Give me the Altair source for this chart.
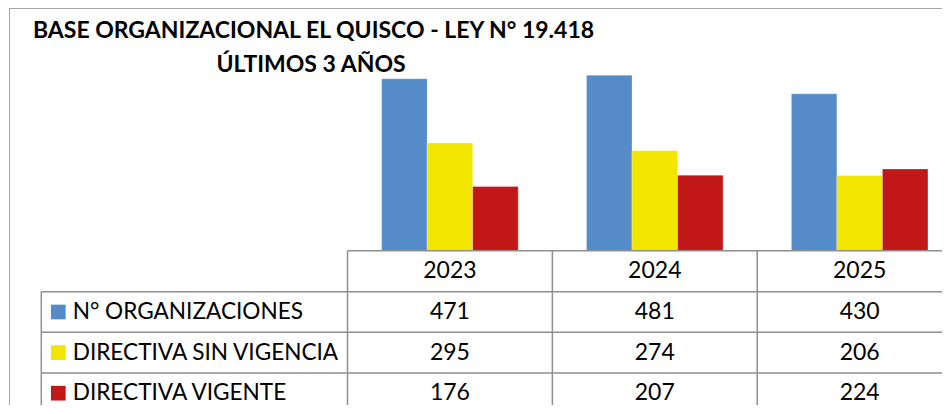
import altair as alt
import pandas as pd

YEARS = ["2023", "2024", "2025"]
SERIES = ["N° ORGANIZACIONES", "DIRECTIVA SIN VIGENCIA", "DIRECTIVA VIGENTE"]
ORGANIZACIONES = [471, 481, 430]
SIN_VIGENCIA = [295, 274, 206]
VIGENTE = [176, 207, 224]
COLORS = ["#558BC9", "#F2E500", "#C2181A"]
TITLE_LINES = ["BASE ORGANIZACIONAL EL QUISCO - LEY N° 19.418", "ÚLTIMOS 3 AÑOS"]
HEADER_KEY = "AÑO"

rows = []
for s, vals in zip(SERIES, [ORGANIZACIONES, SIN_VIGENCIA, VIGENTE]):
    for yr, v in zip(YEARS, vals):
        rows.append({"year": yr, "series": s, "value": v})
df = pd.DataFrame(rows)
hdr = pd.DataFrame({"year": YEARS, "series": [HEADER_KEY] * len(YEARS), "label": YEARS})
leg = pd.DataFrame({"series": SERIES})
one = pd.DataFrame({"a": [0]})
title_df = pd.DataFrame({"line": TITLE_LINES})

W, H = 934, 397
FONT = "Lato"
GRID = "#8f8f8f"
FRAME = "#a6a6a6"
LW = 1.5
COL_RANGE = [339.5, 954.1]
LEG_LEFT = 33.3
BASE = 242.7
HDR_H = 41.0
ROW_H = 40.6
PX_PER_UNIT = 0.365

year_scale = alt.Scale(domain=YEARS, range=COL_RANGE, paddingInner=0, paddingOuter=0)
hdr_scale = alt.Scale(domain=[HEADER_KEY], range=[BASE, BASE + HDR_H], paddingInner=0, paddingOuter=0)
row_scale = alt.Scale(domain=SERIES, range=[BASE + HDR_H, BASE + HDR_H + 3 * ROW_H], paddingInner=0, paddingOuter=0)

xs = alt.X("year:N", scale=year_scale, axis=None)
ys_hdr = alt.Y("series:N", scale=hdr_scale, axis=None)
ys_row = alt.Y("series:N", scale=row_scale, axis=None)
color = alt.Color("series:N", scale=alt.Scale(domain=SERIES, range=COLORS), legend=None)

frame_top = alt.Chart(one).mark_rule(color=FRAME, strokeWidth=1).encode(
    x=alt.value(1), x2=alt.value(W), y=alt.value(0.5)
)
frame_left = alt.Chart(one).mark_rule(color=FRAME, strokeWidth=1).encode(
    x=alt.value(1.5), y=alt.value(0), y2=alt.value(H)
)

bars = alt.Chart(df).mark_bar(stroke="white", strokeWidth=0.5, strokeOpacity=0.6).encode(
    x=xs,
    xOffset=alt.XOffset("series:N", scale=alt.Scale(domain=SERIES, paddingInner=0, paddingOuter=0.75)),
    y=alt.Y("value:Q", scale=alt.Scale(domain=[0, 500], range=[BASE, BASE - 500 * PX_PER_UNIT]), axis=None),
    color=color,
)

# table grid lines
hdr_top = alt.Chart(hdr.iloc[[0]]).mark_rule(color=GRID, strokeWidth=LW).encode(
    y=alt.Y("series:N", scale=hdr_scale, axis=None, bandPosition=0),
    x=alt.value(COL_RANGE[0]), x2=alt.value(W),
)
row_tops = alt.Chart(leg).mark_rule(color=GRID, strokeWidth=LW).encode(
    y=alt.Y("series:N", scale=row_scale, axis=None, bandPosition=0),
    x=alt.value(LEG_LEFT), x2=alt.value(W),
)
col_lefts = alt.Chart(hdr).mark_rule(color=GRID, strokeWidth=LW).encode(
    x=alt.X("year:N", scale=year_scale, axis=None, bandPosition=0),
    y=alt.value(BASE), y2=alt.value(H),
)
leg_left = alt.Chart(one).mark_rule(color=GRID, strokeWidth=LW).encode(
    x=alt.value(LEG_LEFT), y=alt.value(BASE + HDR_H), y2=alt.value(H),
)

hdr_text = alt.Chart(hdr).mark_text(font=FONT, fontSize=23, color="black", baseline="middle").encode(
    x=xs, y=ys_hdr, text="label:N"
)
val_text = alt.Chart(df).mark_text(font=FONT, fontSize=23, color="black", baseline="middle").encode(
    x=xs, y=ys_row, text="value:Q"
)
swatch = alt.Chart(leg).mark_square(size=216, opacity=1).encode(
    x=alt.value(50.3), y=ys_row, color=color
)
leg_text = alt.Chart(leg).mark_text(font=FONT, fontSize=22.6, color="black", align="left", baseline="middle").encode(
    x=alt.value(64.7), y=ys_row, text="series:N"
)

t1 = alt.Chart(title_df.iloc[[0]]).mark_text(font=FONT, fontSize=23, fontWeight="bold", color="black", align="center", baseline="alphabetic").encode(
    x=alt.value(305.5), y=alt.value(30), text="line:N"
)
t2 = alt.Chart(title_df.iloc[[1]]).mark_text(font=FONT, fontSize=23, fontWeight="bold", color="black", align="center", baseline="alphabetic").encode(
    x=alt.value(303), y=alt.value(63.7), text="line:N"
)

chart = alt.layer(
    frame_top, frame_left, bars, hdr_top, row_tops, col_lefts, leg_left,
    hdr_text, val_text, swatch, leg_text, t1, t2
).resolve_scale(y="independent", x="independent", color="shared").properties(
    width=W, height=H, padding=0, autosize=alt.AutoSizeParams(type="none")
).configure_view(strokeWidth=0)

chart.save("out.html", embed_options={"renderer": "svg", "actions": False})
